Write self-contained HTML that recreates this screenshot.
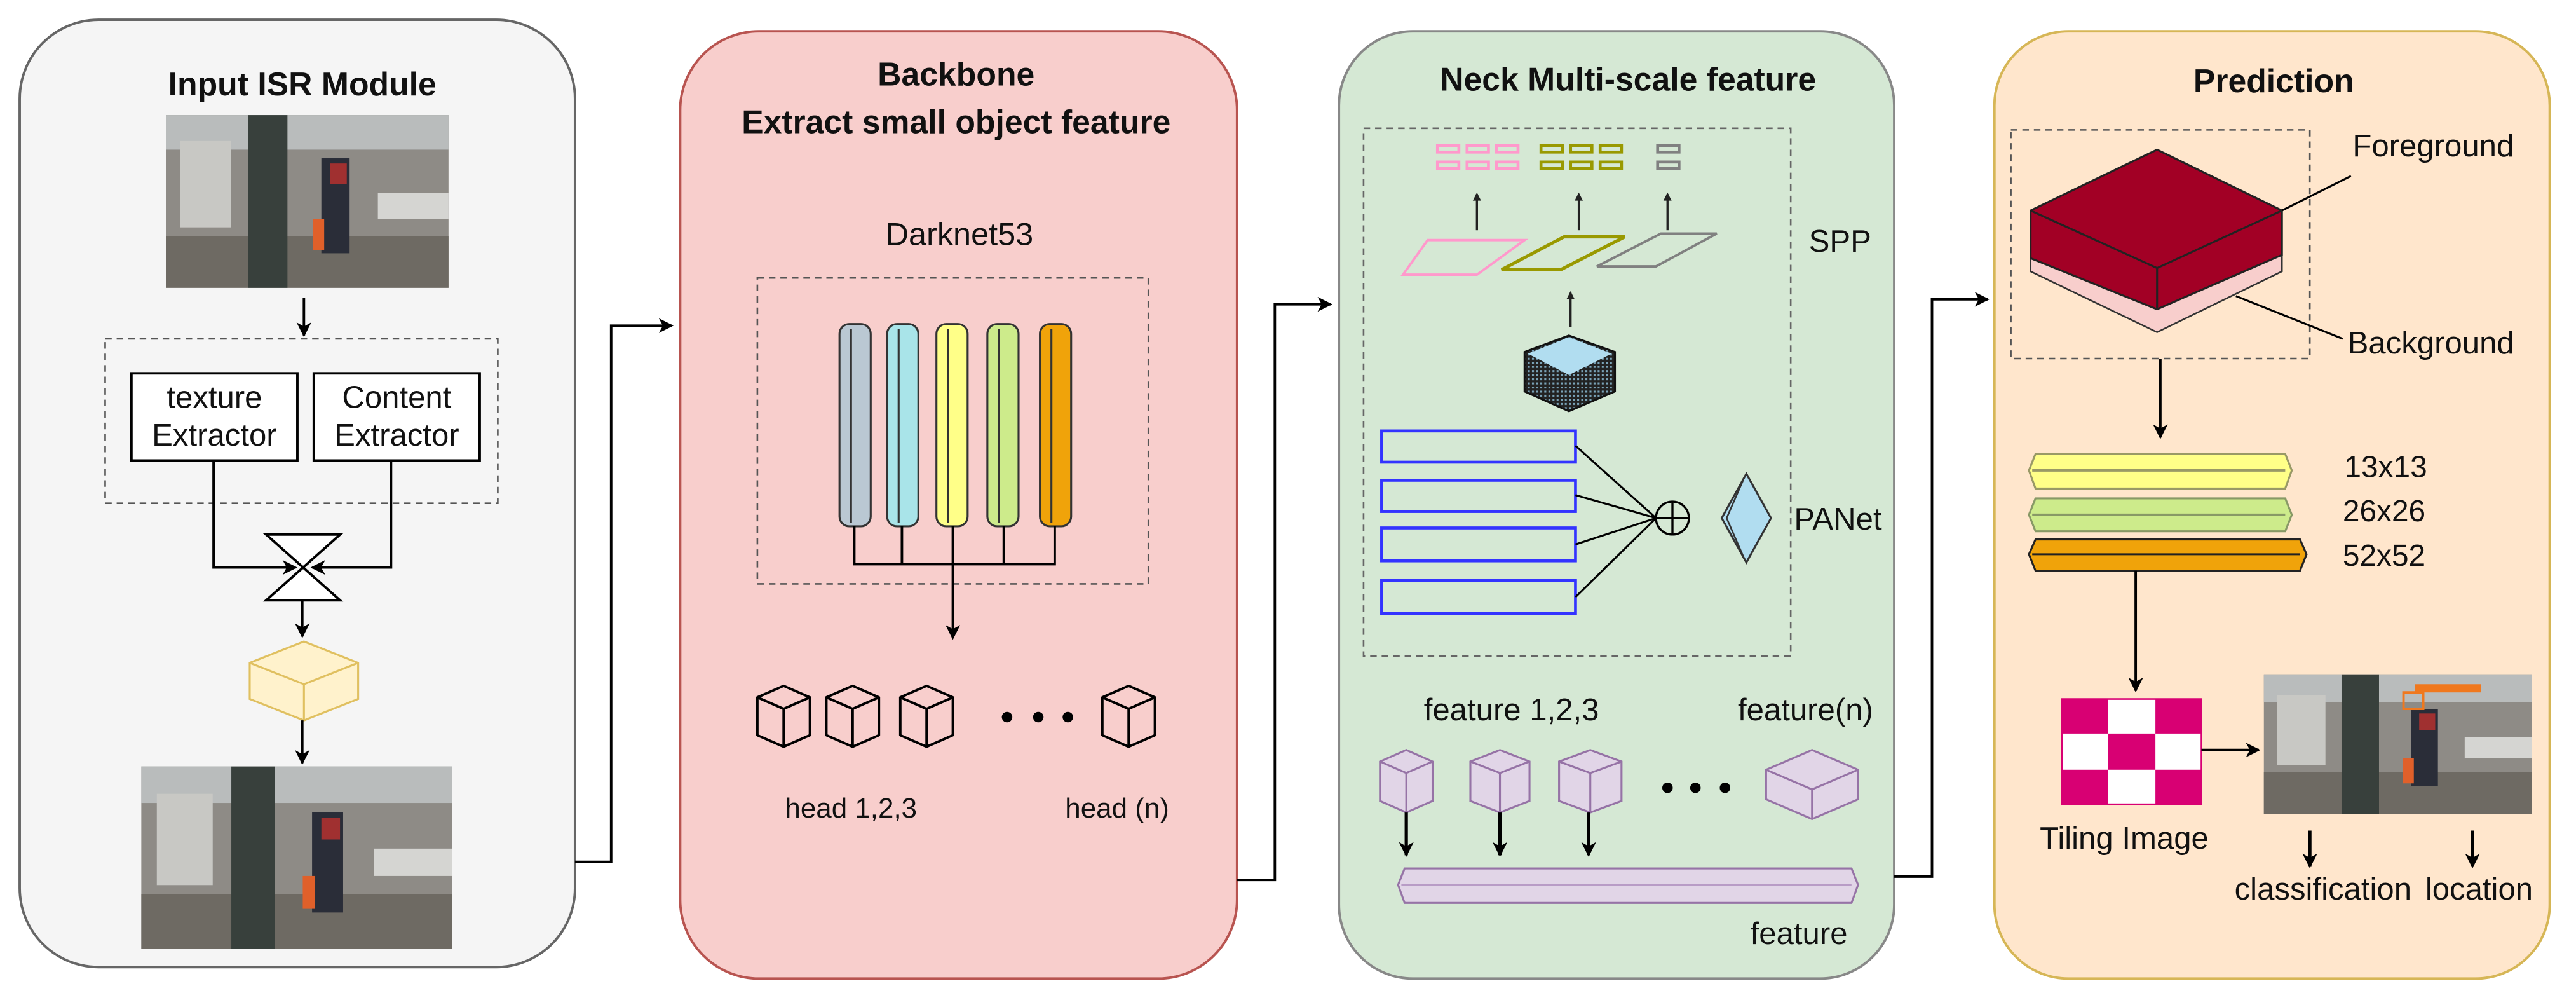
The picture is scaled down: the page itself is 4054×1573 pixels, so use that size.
<!DOCTYPE html>
<html><head><meta charset="utf-8"><style>
html,body{margin:0;padding:0;background:#fff;}
svg{display:block}
text{font-family:"Liberation Sans",sans-serif;fill:#111;}
</style></head><body>
<svg width="4054" height="1573" viewBox="0 0 1568 608" preserveAspectRatio="none" xmlns="http://www.w3.org/2000/svg">
<defs>
<marker id="ah" markerWidth="9" markerHeight="9" refX="8" refY="4.5" orient="auto" markerUnits="userSpaceOnUse"><path d="M0,0 L9,4.5 L0,9 L2.5,4.5 z" fill="#000"/></marker>
<pattern id="grid" width="2.5" height="2.5" patternUnits="userSpaceOnUse"><rect width="2.5" height="2.5" fill="#222"/><rect width="1.2" height="1.2" fill="#7aa3b8"/></pattern>
<g id="photo">
<rect x="0" y="0" width="100" height="100" fill="#8e8b86"/>
<rect x="0" y="0" width="100" height="20" fill="#b9bcbc"/>
<rect x="0" y="70" width="100" height="30" fill="#6e6a63"/>
<rect x="5" y="15" width="18" height="50" fill="#c8c8c4"/>
<rect x="29" y="0" width="14" height="100" fill="#38403c"/>
<rect x="55" y="25" width="10" height="55" fill="#2a2d38"/>
<rect x="58" y="28" width="6" height="12" fill="#a03030"/>
<rect x="52" y="60" width="4" height="18" fill="#e0602a"/>
<rect x="75" y="45" width="25" height="15" fill="#d5d5d2"/>
</g>
<g id="cube"><path d="M0,7 L16,0 L32,7 L32,30 L16,37 L0,30 Z M0,7 L16,14 L32,7 M16,14 L16,37" fill="none" stroke="#000" stroke-width="1.5" stroke-linejoin="round"/></g>
</defs>

<!-- Panel 1 -->
<rect x="12" y="12" width="338" height="576" rx="48" fill="#f5f5f5" stroke="#666" stroke-width="1.5"/>
<text x="184" y="58" font-size="20" font-weight="bold" text-anchor="middle">Input ISR Module</text>
<use href="#photo" transform="translate(101,70) scale(1.72,1.05)"/>
<line x1="185" y1="181" x2="185" y2="204" stroke="#000" stroke-width="1.5" marker-end="url(#ah)"/>
<rect x="64" y="206" width="239" height="100" fill="none" stroke="#555" stroke-dasharray="4,3"/>
<rect x="80" y="227" width="101" height="53" fill="#fff" stroke="#000" stroke-width="1.5"/>
<rect x="191" y="227" width="101" height="53" fill="#fff" stroke="#000" stroke-width="1.5"/>
<text x="130.5" y="248" font-size="19" text-anchor="middle">texture</text>
<text x="130.5" y="271" font-size="19" text-anchor="middle">Extractor</text>
<text x="241.5" y="248" font-size="19" text-anchor="middle">Content</text>
<text x="241.5" y="271" font-size="19" text-anchor="middle">Extractor</text>
<polyline points="130,280 130,345 180,345" fill="none" stroke="#000" stroke-width="1.5" marker-end="url(#ah)"/>
<polyline points="238,280 238,345 190,345" fill="none" stroke="#000" stroke-width="1.5" marker-end="url(#ah)"/>
<path d="M162,325 L207,325 L162,365 L207,365 Z" fill="#fff" stroke="#000" stroke-width="1.5"/>
<line x1="184" y1="365" x2="184" y2="387" stroke="#000" stroke-width="1.5" marker-end="url(#ah)"/>
<path d="M152,403 L185,390 L218,403 L218,425 L185,438 L152,425 Z" fill="#fff2cc" stroke="#e0c060" stroke-width="1.2"/>
<path d="M152,403 L185,416 L218,403 M185,416 L185,438" fill="none" stroke="#e0c060" stroke-width="1.2"/>
<line x1="184" y1="438" x2="184" y2="464" stroke="#000" stroke-width="1.5" marker-end="url(#ah)"/>
<use href="#photo" transform="translate(86,466) scale(1.89,1.11)"/>
<polyline points="350,524 372,524 372,198 409,198" fill="none" stroke="#000" stroke-width="1.5" marker-end="url(#ah)"/>

<!-- Panel 2 -->
<rect x="414" y="19" width="339" height="576" rx="48" fill="#f8cecc" stroke="#b85450" stroke-width="1.5"/>
<text x="582" y="52" font-size="20" font-weight="bold" text-anchor="middle">Backbone</text>
<text x="582" y="81" font-size="20" font-weight="bold" text-anchor="middle">Extract small object feature</text>
<text x="584" y="149" font-size="19.5" text-anchor="middle">Darknet53</text>
<rect x="461" y="169" width="238" height="186" fill="none" stroke="#555" stroke-dasharray="4,3"/>
<g stroke="#333" stroke-width="1.2">
<rect x="511" y="197" width="19" height="123" rx="6" fill="#bac8d3"/><line x1="518" y1="200" x2="518" y2="318"/>
<rect x="540" y="197" width="19" height="123" rx="6" fill="#a9e4e9"/><line x1="547" y1="200" x2="547" y2="318"/>
<rect x="570" y="197" width="19" height="123" rx="6" fill="#ffff88"/><line x1="577" y1="200" x2="577" y2="318"/>
<rect x="601" y="197" width="19" height="123" rx="6" fill="#cdeb8b"/><line x1="608" y1="200" x2="608" y2="318"/>
<rect x="633" y="197" width="19" height="123" rx="6" fill="#f0a30a"/><line x1="640" y1="200" x2="640" y2="318"/>
</g>
<polyline points="520,320 520,343 642,343 642,320" fill="none" stroke="#000" stroke-width="1.5"/>
<line x1="549" y1="320" x2="549" y2="343" stroke="#000" stroke-width="1.5"/>
<line x1="611" y1="320" x2="611" y2="343" stroke="#000" stroke-width="1.5"/>
<line x1="580" y1="320" x2="580" y2="388" stroke="#000" stroke-width="1.5" marker-end="url(#ah)"/>
<use href="#cube" transform="translate(461,417)"/>
<use href="#cube" transform="translate(503,417)"/>
<use href="#cube" transform="translate(548,417)"/>
<use href="#cube" transform="translate(671,417)"/>
<circle cx="613" cy="436" r="3.2" fill="#000"/><circle cx="632" cy="436" r="3.2" fill="#000"/><circle cx="650" cy="436" r="3.2" fill="#000"/>
<text x="518" y="497" font-size="17" text-anchor="middle">head 1,2,3</text>
<text x="680" y="497" font-size="17" text-anchor="middle">head (n)</text>
<polyline points="753,535 776,535 776,185 810,185" fill="none" stroke="#000" stroke-width="1.5" marker-end="url(#ah)"/>

<!-- Panel 3 -->
<rect x="815" y="19" width="338" height="576" rx="45" fill="#d5e8d4" stroke="#888" stroke-width="1.5"/>
<text x="991" y="55" font-size="20" font-weight="bold" text-anchor="middle">Neck Multi-scale feature</text>
<rect x="830" y="78" width="260" height="321" fill="none" stroke="#666" stroke-dasharray="4,3"/>
<g stroke-width="1.8" fill="none">
<g stroke="#ff99cc"><rect x="875" y="88.5" width="13" height="4"/><rect x="893" y="88.5" width="13" height="4"/><rect x="911" y="88.5" width="13" height="4"/><rect x="875" y="98.5" width="13" height="4"/><rect x="893" y="98.5" width="13" height="4"/><rect x="911" y="98.5" width="13" height="4"/></g>
<g stroke="#999900"><rect x="938" y="88.5" width="13" height="4"/><rect x="956" y="88.5" width="13" height="4"/><rect x="974" y="88.5" width="13" height="4"/><rect x="938" y="98.5" width="13" height="4"/><rect x="956" y="98.5" width="13" height="4"/><rect x="974" y="98.5" width="13" height="4"/></g>
<g stroke="#808080"><rect x="1009" y="88.5" width="13" height="4"/><rect x="1009" y="98.5" width="13" height="4"/></g>
</g>
<g stroke="#222" stroke-width="1.3">
<line x1="899" y1="140" x2="899" y2="118"/><line x1="961" y1="140" x2="961" y2="118"/><line x1="1015" y1="140" x2="1015" y2="118"/><line x1="956" y1="199" x2="956" y2="178"/>
</g>
<g fill="#222"><path d="M896.5,122 L899,117 L901.5,122Z"/><path d="M958.5,122 L961,117 L963.5,122Z"/><path d="M1012.5,122 L1015,117 L1017.5,122Z"/><path d="M953.5,182 L956,177 L958.5,182Z"/></g>
<polygon points="854,167 869,146 928,146 899,167" fill="none" stroke="#ff99cc" stroke-width="1.5"/>
<polygon points="914,164 952,144 989,144 950,164" fill="none" stroke="#999900" stroke-width="2"/>
<polygon points="972,162 1011,142 1045,142 1008,162" fill="none" stroke="#808080" stroke-width="1.5"/>
<polygon points="955,204 983,214 983,238 955,250 928,238 928,214" fill="url(#grid)" stroke="#111" stroke-width="1.2"/>
<polygon points="955,205 981,215 955,228 930,215" fill="#b1ddf0"/>
<g fill="none" stroke="#3333ff" stroke-width="1.8">
<rect x="841" y="262" width="118" height="19"/><rect x="841" y="292" width="118" height="19"/><rect x="841" y="321" width="118" height="20"/><rect x="841" y="353" width="118" height="20"/>
</g>
<g stroke="#000" stroke-width="1.2">
<line x1="959" y1="271" x2="1008" y2="315"/><line x1="959" y1="301" x2="1008" y2="315"/><line x1="959" y1="331" x2="1008" y2="315"/><line x1="959" y1="363" x2="1008" y2="315"/>
</g>
<circle cx="1018" cy="315" r="10" fill="none" stroke="#000" stroke-width="1.3"/>
<path d="M1008,315 H1028 M1018,305 V325" stroke="#000" stroke-width="1.3"/>
<polygon points="1063,288 1078,315 1063,342 1048,315" fill="#b1ddf0" stroke="#333" stroke-width="1.2"/>
<polyline points="1061,292 1051,315 1061,338" fill="none" stroke="#333" stroke-width="1"/>
<text x="1101" y="153" font-size="19">SPP</text>
<text x="1092" y="322" font-size="19">PANet</text>
<text x="920" y="438" font-size="19" text-anchor="middle">feature 1,2,3</text>
<text x="1099" y="438" font-size="19" text-anchor="middle">feature(n)</text>
<g fill="#e1d5e7" stroke="#9673a6" stroke-width="1.2">
<path d="M840,463 L856,456 L872,463 L872,487 L856,494 L840,487 Z"/><path d="M840,463 L856,470 L872,463 M856,470 L856,494" fill="none"/>
<path d="M895,463 L913,456 L931,463 L931,487 L913,494 L895,487 Z"/><path d="M895,463 L913,470 L931,463 M913,470 L913,494" fill="none"/>
<path d="M949,463 L968,456 L987,463 L987,487 L968,494 L949,487 Z"/><path d="M949,463 L968,470 L987,463 M968,470 L968,494" fill="none"/>
<path d="M1075,468 L1103,456 L1131,468 L1131,486 L1103,498 L1075,486 Z"/><path d="M1075,468 L1103,480 L1131,468 M1103,480 L1103,498" fill="none"/>
</g>
<circle cx="1015" cy="479" r="3.2" fill="#000"/><circle cx="1032" cy="479" r="3.2" fill="#000"/><circle cx="1050" cy="479" r="3.2" fill="#000"/>
<g stroke="#000" stroke-width="2"><line x1="856" y1="494" x2="856" y2="520" marker-end="url(#ah)"/><line x1="913" y1="494" x2="913" y2="520" marker-end="url(#ah)"/><line x1="967" y1="494" x2="967" y2="520" marker-end="url(#ah)"/></g>
<path d="M855,528 L1127,528 L1131,538 L1127,549 L855,549 L851,538 Z" fill="#e1d5e7" stroke="#9673a6" stroke-width="1.2"/>
<line x1="853" y1="538" x2="1127" y2="538" stroke="#b89cc6" stroke-width="1"/>
<text x="1095" y="574" font-size="19" text-anchor="middle">feature</text>
<polyline points="1153,533 1176,533 1176,182 1210,182" fill="none" stroke="#000" stroke-width="1.5" marker-end="url(#ah)"/>

<!-- Panel 4 -->
<rect x="1214" y="19" width="338" height="576" rx="45" fill="#ffe6cc" stroke="#d6b656" stroke-width="1.5"/>
<text x="1384" y="56" font-size="20" font-weight="bold" text-anchor="middle">Prediction</text>
<rect x="1224" y="79" width="182" height="139" fill="none" stroke="#555" stroke-dasharray="4,3"/>
<polygon points="1236,140 1313,103 1389,140 1389,165 1313,202 1236,165" fill="#f8cecc" stroke="#333" stroke-width="1"/>
<polygon points="1236,128 1313,91 1389,128 1389,155 1313,188 1236,157" fill="#a20025" stroke="#222" stroke-width="1.2"/>
<path d="M1236,128 L1313,163 L1389,128 M1313,163 L1313,188" fill="none" stroke="#222" stroke-width="1.2"/>
<line x1="1389" y1="128" x2="1431" y2="107" stroke="#000" stroke-width="1.2"/>
<line x1="1361" y1="180" x2="1426" y2="206" stroke="#000" stroke-width="1.2"/>
<text x="1432" y="95" font-size="19">Foreground</text>
<text x="1429" y="215" font-size="19">Background</text>
<line x1="1315" y1="218" x2="1315" y2="266" stroke="#000" stroke-width="1.5" marker-end="url(#ah)"/>
<path d="M1239,276 L1391,276 L1395,286 L1391,297 L1239,297 L1235,286 Z" fill="#ffff88" stroke="#999966" stroke-width="1.2"/>
<line x1="1237" y1="286" x2="1391" y2="286" stroke="#999966" stroke-width="1.5"/>
<path d="M1239,303 L1391,303 L1395,313 L1391,323 L1239,323 L1235,313 Z" fill="#cdeb8b" stroke="#889966" stroke-width="1.2"/>
<line x1="1237" y1="313" x2="1391" y2="313" stroke="#889966" stroke-width="1.5"/>
<path d="M1239,328 L1400,328 L1404,337 L1400,347 L1239,347 L1235,337 Z" fill="#f0a30a" stroke="#222" stroke-width="1.2"/>
<line x1="1237" y1="337" x2="1400" y2="337" stroke="#222" stroke-width="1.2"/>
<text x="1427" y="290" font-size="18.5">13x13</text>
<text x="1426" y="317" font-size="18.5">26x26</text>
<text x="1426" y="344" font-size="18.5">52x52</text>
<line x1="1300" y1="347" x2="1300" y2="420" stroke="#000" stroke-width="1.5" marker-end="url(#ah)"/>
<g>
<rect x="1255" y="425" width="85" height="64" fill="#fff" stroke="#d80073" stroke-width="1"/>
<rect x="1255" y="425" width="28" height="21" fill="#d80073"/><rect x="1312" y="425" width="28" height="21" fill="#d80073"/>
<rect x="1283" y="446" width="29" height="22" fill="#d80073"/>
<rect x="1255" y="468" width="28" height="21" fill="#d80073"/><rect x="1312" y="468" width="28" height="21" fill="#d80073"/>
</g>
<line x1="1340" y1="456" x2="1375" y2="456" stroke="#000" stroke-width="1.5" marker-end="url(#ah)"/>
<use href="#photo" transform="translate(1378,410) scale(1.63,0.85)"/>
<rect x="1463" y="421" width="12" height="10" fill="none" stroke="#f0781e" stroke-width="1.5"/>
<rect x="1470" y="416" width="40" height="5" fill="#f0781e"/>
<text x="1293" y="516" font-size="19" text-anchor="middle">Tiling Image</text>
<line x1="1406" y1="505" x2="1406" y2="527" stroke="#000" stroke-width="2" marker-end="url(#ah)"/>
<line x1="1505" y1="505" x2="1505" y2="527" stroke="#000" stroke-width="2" marker-end="url(#ah)"/>
<text x="1414" y="547" font-size="19" text-anchor="middle">classification</text>
<text x="1509" y="547" font-size="19" text-anchor="middle">location</text>
</svg>
</body></html>
